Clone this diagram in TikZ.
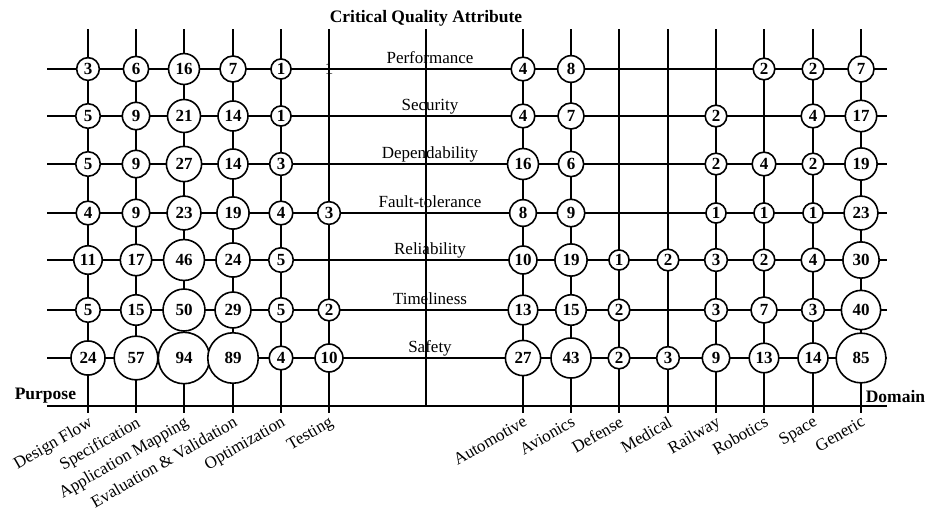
\documentclass[tikz,border=0pt]{standalone}
\usepackage{fontspec}
\setmainfont{Liberation Serif}
\usetikzlibrary{positioning,calc}

\begin{document}
\begin{tikzpicture}[
  x=1pt, y=-1pt,
  line width=1.6pt,
  font=\fontsize{17}{19}\selectfont,
  % bubble size grows with the count
  bubble/.style = {
    draw, circle, fill=white,
    inner sep=0pt,
    minimum size={16.5+3.6*sqrt(#1)},
    font=\fontsize{17}{19}\selectfont\bfseries
  },
  rowlabel/.style = {anchor=base, inner sep=0pt},
  collabel/.style = {anchor=north east, rotate=30, inner sep=1pt},
  axistitle/.style = {font=\fontsize{17.5}{19}\selectfont\bfseries, inner sep=0pt}
]

\useasboundingbox (0,0) rectangle (928,507);

% ---- grid coordinates ----
\foreach \name/\x in {df/88, spec/136, am/184, ev/233, opt/281, test/329,
  auto/523, avi/571, def/619, med/668, rail/716, rob/764, space/813, gen/861}{
  \coordinate (top-\name) at (\x,29);
  \coordinate (foot-\name) at (\x,413);
}
\coordinate (top-mid) at (426,29);
\coordinate (foot-mid) at (426,406);
\foreach \name/\y in {perf/69, sec/116, dep/164, ft/213, rel/260, time/310, safe/358, axis/406}{
  \coordinate (left-\name) at (47,\y);
  \coordinate (right-\name) at (887,\y);
}

% ---- lines ----
\foreach \name in {df, spec, am, ev, opt, test, mid, auto, avi, def, med, rail, rob, space, gen}
  \draw (top-\name) -- (foot-\name);
\foreach \name in {perf, sec, dep, ft, rel, time, safe, axis}
  \draw (left-\name) -- (right-\name);

% ---- bubbles ----
% Performance
\foreach \c/\v in {df/3, spec/6, am/16, ev/7, opt/1, auto/4, avi/8, rob/2, space/2, gen/7}
  \node[bubble=\v] (perf-\c) at (top-\c |- left-perf) {\v};
\node[inner sep=0pt] (perf-test) at (top-test |- left-perf) {1};
% Security
\foreach \c/\v in {df/5, spec/9, am/21, ev/14, opt/1, auto/4, avi/7, rail/2, space/4, gen/17}
  \node[bubble=\v] (sec-\c) at (top-\c |- left-sec) {\v};
% Dependability
\foreach \c/\v in {df/5, spec/9, am/27, ev/14, opt/3, auto/16, avi/6, rail/2, rob/4, space/2, gen/19}
  \node[bubble=\v] (dep-\c) at (top-\c |- left-dep) {\v};
% Fault-tolerance
\foreach \c/\v in {df/4, spec/9, am/23, ev/19, opt/4, test/3, auto/8, avi/9, rail/1, rob/1, space/1, gen/23}
  \node[bubble=\v] (ft-\c) at (top-\c |- left-ft) {\v};
% Reliability
\foreach \c/\v in {df/11, spec/17, am/46, ev/24, opt/5, auto/10, avi/19, def/1, med/2, rail/3, rob/2, space/4, gen/30}
  \node[bubble=\v] (rel-\c) at (top-\c |- left-rel) {\v};
% Timeliness
\foreach \c/\v in {df/5, spec/15, am/50, ev/29, opt/5, test/2, auto/13, avi/15, def/2, rail/3, rob/7, space/3, gen/40}
  \node[bubble=\v] (time-\c) at (top-\c |- left-time) {\v};
% Safety
\foreach \c/\v in {df/24, spec/57, am/94, ev/89, opt/4, test/10, auto/27, avi/43, def/2, med/3, rail/9, rob/13, space/14, gen/85}
  \node[bubble=\v] (safe-\c) at (top-\c |- left-safe) {\v};

% ---- row labels ----
\node[rowlabel] (lab-perf) at ($(top-mid |- left-perf)+(4,-6)$) {Performance};
\node[rowlabel] (lab-sec)  at ($(top-mid |- left-sec)+(4,-6)$)  {Security};
\node[rowlabel] (lab-dep)  at ($(top-mid |- left-dep)+(4,-6)$)  {Dependability};
\node[rowlabel] (lab-ft)   at ($(top-mid |- left-ft)+(4,-6)$)   {Fault-tolerance};
\node[rowlabel] (lab-rel)  at ($(top-mid |- left-rel)+(4,-6)$)  {Reliability};
\node[rowlabel] (lab-time) at ($(top-mid |- left-time)+(4,-6)$) {Timeliness};
\node[rowlabel] (lab-safe) at ($(top-mid |- left-safe)+(4,-6)$) {Safety};

% ---- column labels ----
\node[collabel] (lab-df)    at (foot-df)    {Design Flow};
\node[collabel] (lab-spec)  at (foot-spec)  {Specification};
\node[collabel] (lab-am)    at (foot-am)    {Application Mapping};
\node[collabel] (lab-ev)    at (foot-ev)    {Evaluation \& Validation};
\node[collabel] (lab-opt)   at (foot-opt)   {Optimization};
\node[collabel] (lab-test)  at (foot-test)  {Testing};
\node[collabel] (lab-auto)  at (foot-auto)  {Automotive};
\node[collabel] (lab-avi)   at (foot-avi)   {Avionics};
\node[collabel] (lab-def)   at (foot-def)   {Defense};
\node[collabel] (lab-med)   at (foot-med)   {Medical};
\node[collabel] (lab-rail)  at (foot-rail)  {Railway};
\node[collabel] (lab-rob)   at (foot-rob)   {Robotics};
\node[collabel] (lab-space) at (foot-space) {Space};
\node[collabel] (lab-gen)   at (foot-gen)   {Generic};

% ---- axis titles ----
\node[axistitle, anchor=base] (title) at (426,22) {Critical Quality Attribute};
\node[axistitle, anchor=base west] (purpose) at (14,399) {Purpose};
\node[axistitle, anchor=base west] (domain) at (865,402) {Domain};

\end{tikzpicture}
\end{document}
